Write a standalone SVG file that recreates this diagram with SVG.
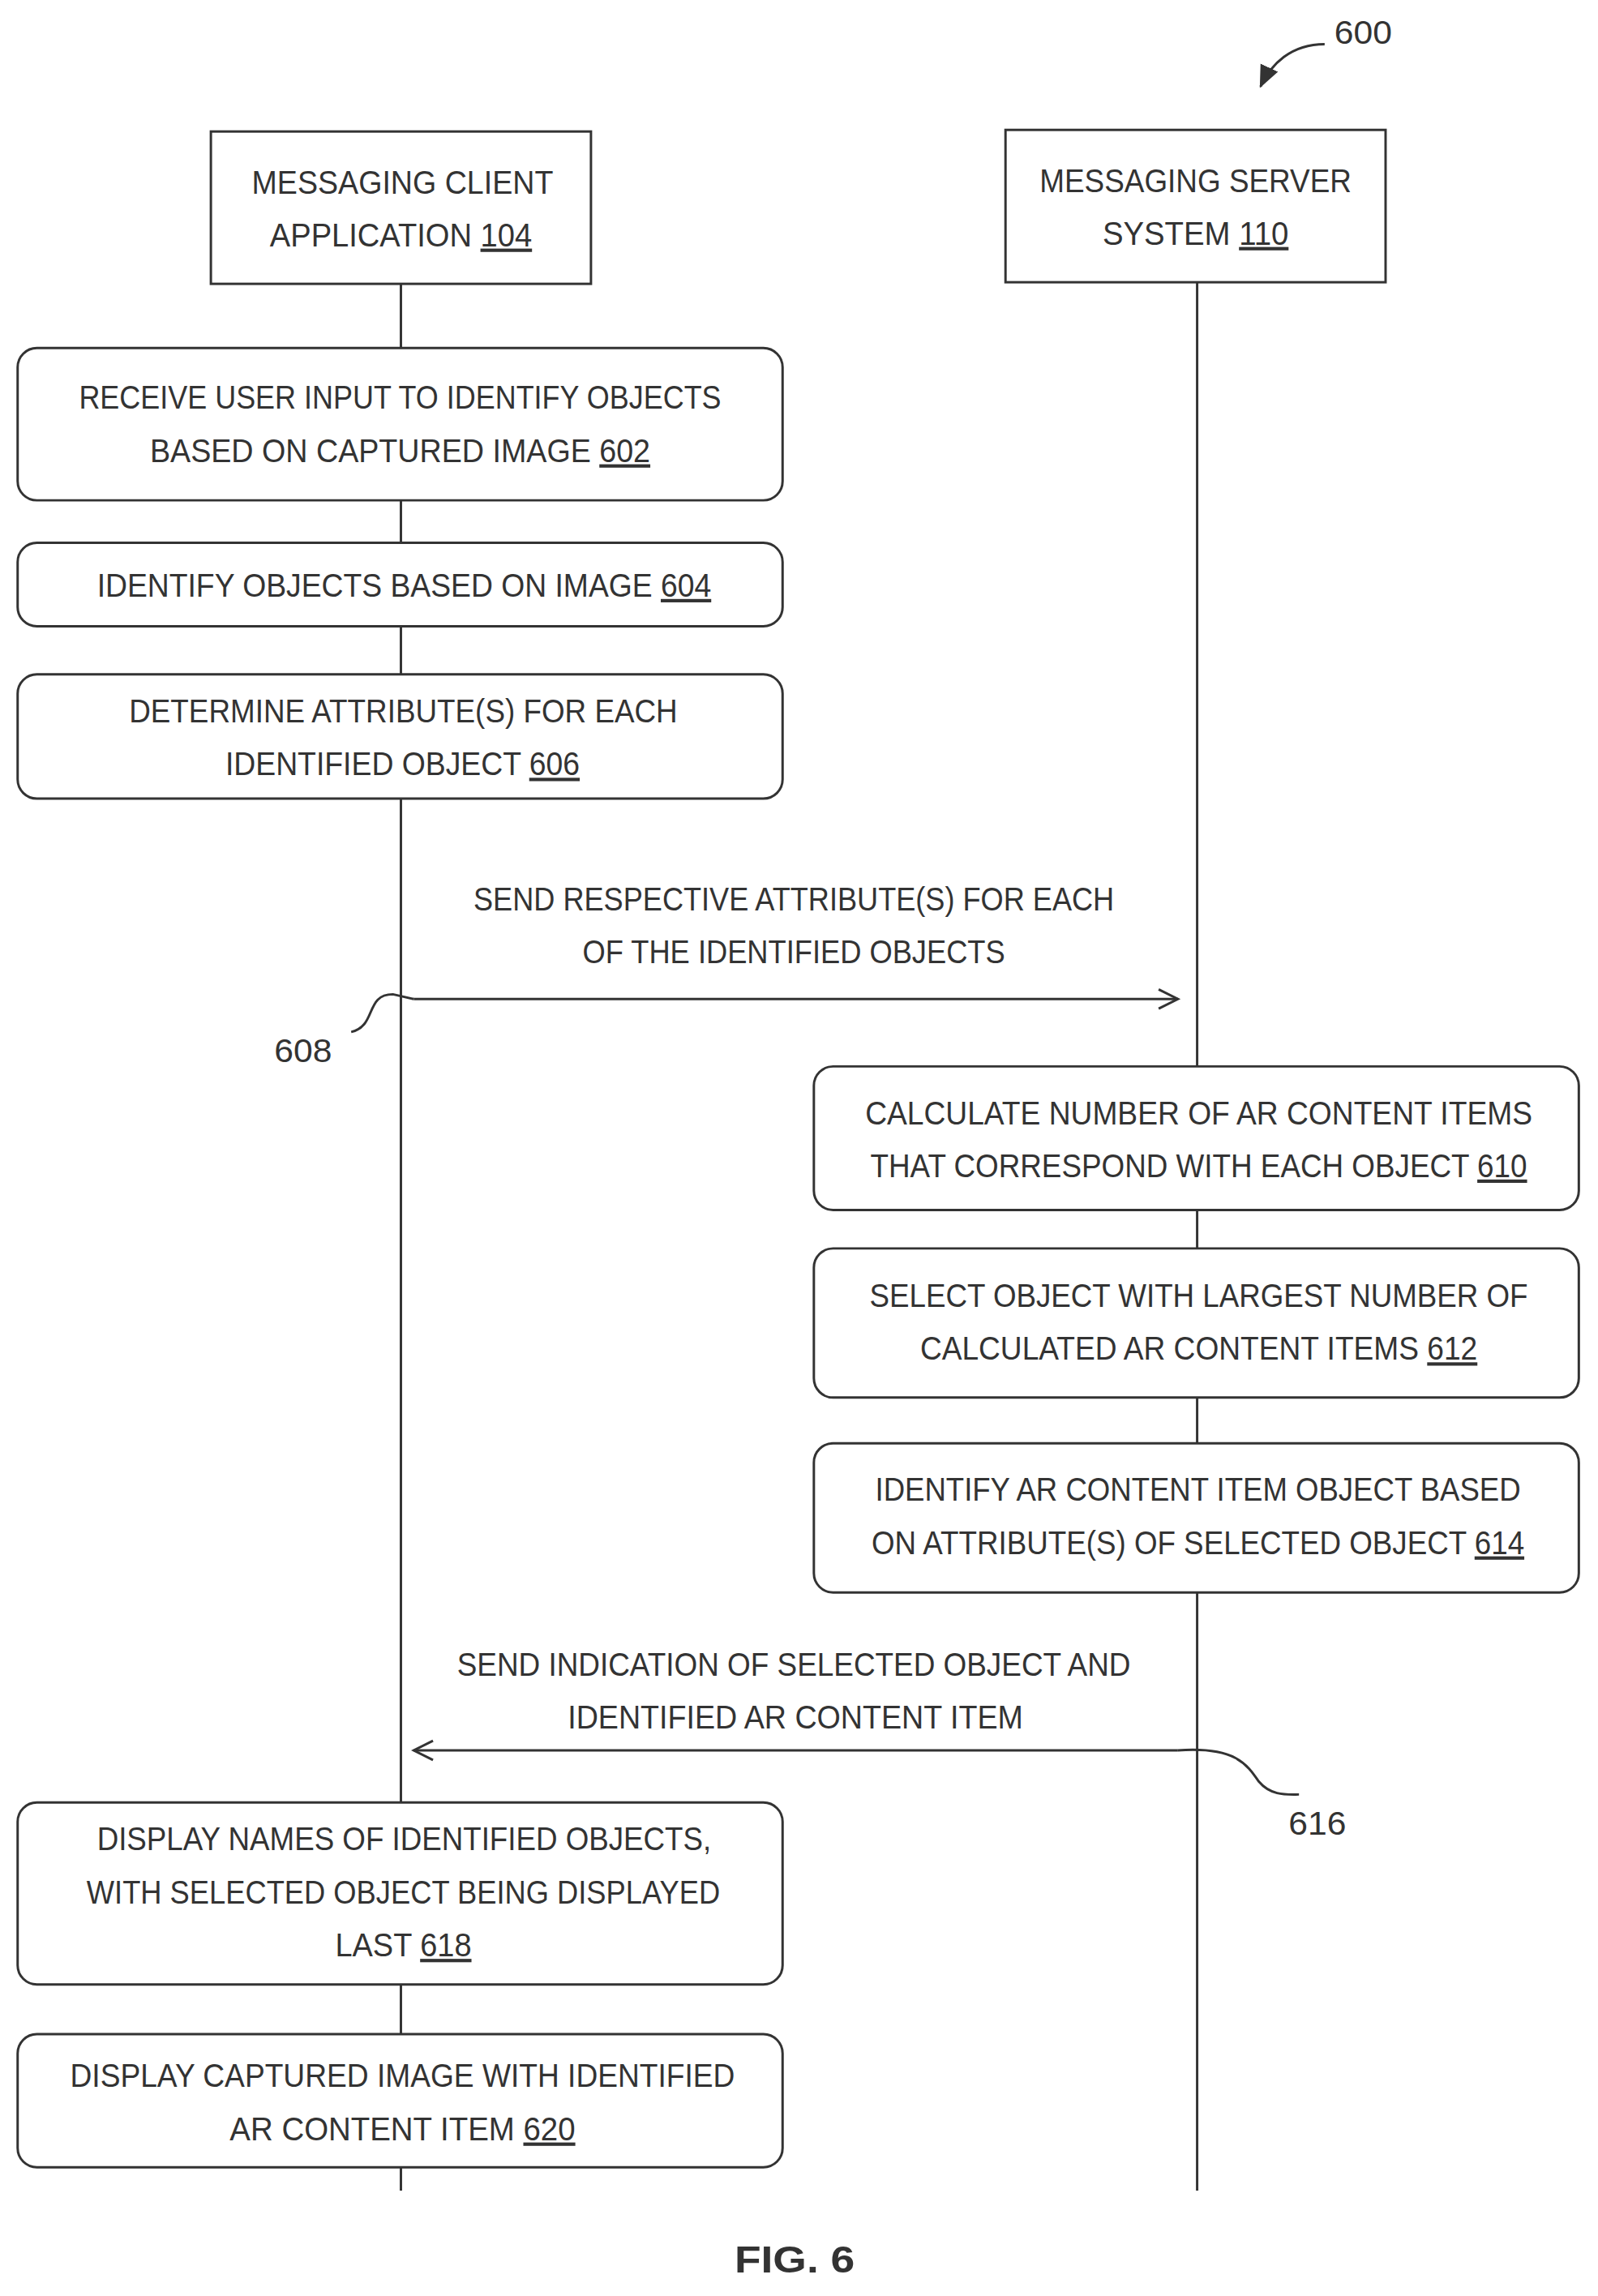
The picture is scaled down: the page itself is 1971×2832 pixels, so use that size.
<svg xmlns="http://www.w3.org/2000/svg" width="1971" height="2832" viewBox="0 0 1971 2832">
<style>
text{font-family:"Liberation Sans",Arial,sans-serif;font-size:42px;fill:#333;text-anchor:middle}
.u{text-decoration:underline}
.box{fill:#fff;stroke:#333;stroke-width:3}
.ln{fill:none;stroke:#333;stroke-width:3}
</style>
<defs>
<marker id="open2" markerWidth="30" markerHeight="30" refX="26" refY="15" orient="auto" markerUnits="userSpaceOnUse" viewBox="0 0 30 30"><path d="M2,3 L26,15 L2,27" fill="none" stroke="#333" stroke-width="3"/></marker>
<marker id="solid" markerWidth="30" markerHeight="30" refX="26" refY="15" orient="auto" markerUnits="userSpaceOnUse" viewBox="0 0 30 30"><path d="M0,3 L28,15 L0,27 Z" fill="#333"/></marker>
</defs>
<g transform="scale(0.989)">
<g id="connectors">
<line class="ln" x1="500" y1="354" x2="500" y2="2732"/>
<line class="ln" x1="1493" y1="352" x2="1493" y2="2732"/>
<line class="ln" x1="516" y1="1246" x2="1469" y2="1246" marker-end="url(#open2)"/>
<line class="ln" x1="1469" y1="2183" x2="516" y2="2183" marker-end="url(#open2)"/>
<path class="ln" d="M438,1287 C470,1280 455,1240 490,1240 L516,1246"/>
<path class="ln" d="M1469,2183 C1540,2178 1555,2200 1570,2222 C1585,2240 1605,2238 1620,2238"/>
<path class="ln" d="M1652,55 C1610,55 1585,80 1572,108" marker-end="url(#solid)"/>
</g>
<g id="n_client"><rect class="box" x="263" y="164" width="474" height="190"/>
<text x="502" y="242" textLength="376" lengthAdjust="spacingAndGlyphs">MESSAGING CLIENT</text>
<text x="500" y="307" textLength="327" lengthAdjust="spacingAndGlyphs">APPLICATION <tspan class="u">104</tspan></text></g>
<g id="n_server"><rect class="box" x="1254" y="162" width="474" height="190"/>
<text x="1491" y="240" textLength="389" lengthAdjust="spacingAndGlyphs">MESSAGING SERVER</text>
<text x="1491" y="305" textLength="232" lengthAdjust="spacingAndGlyphs">SYSTEM <tspan class="u">110</tspan></text></g>
<g id="n600"><text x="1700" y="55" textLength="72" lengthAdjust="spacingAndGlyphs">600</text></g>
<g id="n602"><rect class="box" x="22" y="434" width="954" height="190" rx="24"/>
<text x="499" y="510" textLength="801" lengthAdjust="spacingAndGlyphs">RECEIVE USER INPUT TO IDENTIFY OBJECTS</text>
<text x="499" y="576" textLength="624" lengthAdjust="spacingAndGlyphs">BASED ON CAPTURED IMAGE <tspan class="u">602</tspan></text></g>
<g id="n604"><rect class="box" x="22" y="677" width="954" height="104" rx="24"/>
<text x="504" y="744" textLength="766" lengthAdjust="spacingAndGlyphs">IDENTIFY OBJECTS BASED ON IMAGE <tspan class="u">604</tspan></text></g>
<g id="n606"><rect class="box" x="22" y="841" width="954" height="155" rx="24"/>
<text x="503" y="901" textLength="684" lengthAdjust="spacingAndGlyphs">DETERMINE ATTRIBUTE(S) FOR EACH</text>
<text x="502" y="967" textLength="442" lengthAdjust="spacingAndGlyphs">IDENTIFIED OBJECT <tspan class="u">606</tspan></text></g>
<g id="m608">
<text x="990" y="1135" textLength="799" lengthAdjust="spacingAndGlyphs">SEND RESPECTIVE ATTRIBUTE(S) FOR EACH</text>
<text x="990" y="1201" textLength="527" lengthAdjust="spacingAndGlyphs">OF THE IDENTIFIED OBJECTS</text>
<text x="378" y="1325" textLength="72" lengthAdjust="spacingAndGlyphs">608</text></g>
<g id="n610"><rect class="box" x="1015" y="1330" width="954" height="179" rx="24"/>
<text x="1495" y="1402" textLength="832" lengthAdjust="spacingAndGlyphs">CALCULATE NUMBER OF AR CONTENT ITEMS</text>
<text x="1495" y="1468" textLength="819" lengthAdjust="spacingAndGlyphs">THAT CORRESPOND WITH EACH OBJECT <tspan class="u">610</tspan></text></g>
<g id="n612"><rect class="box" x="1015" y="1557" width="954" height="186" rx="24"/>
<text x="1495" y="1630" textLength="821" lengthAdjust="spacingAndGlyphs">SELECT OBJECT WITH LARGEST NUMBER OF</text>
<text x="1495" y="1696" textLength="695" lengthAdjust="spacingAndGlyphs">CALCULATED AR CONTENT ITEMS <tspan class="u">612</tspan></text></g>
<g id="n614"><rect class="box" x="1015" y="1800" width="954" height="186" rx="24"/>
<text x="1494" y="1872" textLength="805" lengthAdjust="spacingAndGlyphs">IDENTIFY AR CONTENT ITEM OBJECT BASED</text>
<text x="1494" y="1938" textLength="814" lengthAdjust="spacingAndGlyphs">ON ATTRIBUTE(S) OF SELECTED OBJECT <tspan class="u">614</tspan></text></g>
<g id="m616">
<text x="990" y="2090" textLength="840" lengthAdjust="spacingAndGlyphs">SEND INDICATION OF SELECTED OBJECT AND</text>
<text x="992" y="2156" textLength="568" lengthAdjust="spacingAndGlyphs">IDENTIFIED AR CONTENT ITEM</text>
<text x="1643" y="2288" textLength="72" lengthAdjust="spacingAndGlyphs">616</text></g>
<g id="n618"><rect class="box" x="22" y="2248" width="954" height="227" rx="24"/>
<text x="504" y="2307" textLength="766" lengthAdjust="spacingAndGlyphs">DISPLAY NAMES OF IDENTIFIED OBJECTS,</text>
<text x="503" y="2374" textLength="790" lengthAdjust="spacingAndGlyphs">WITH SELECTED OBJECT BEING DISPLAYED</text>
<text x="503" y="2440" textLength="170" lengthAdjust="spacingAndGlyphs">LAST <tspan class="u">618</tspan></text></g>
<g id="n620"><rect class="box" x="22" y="2537" width="954" height="166" rx="24"/>
<text x="502" y="2603" textLength="829" lengthAdjust="spacingAndGlyphs">DISPLAY CAPTURED IMAGE WITH IDENTIFIED</text>
<text x="502" y="2669" textLength="431" lengthAdjust="spacingAndGlyphs">AR CONTENT ITEM <tspan class="u">620</tspan></text></g>
<g id="fig"><text x="991" y="2834" style="font-weight:bold;font-size:46px" textLength="150" lengthAdjust="spacingAndGlyphs">FIG. 6</text></g>
</g>
</svg>
